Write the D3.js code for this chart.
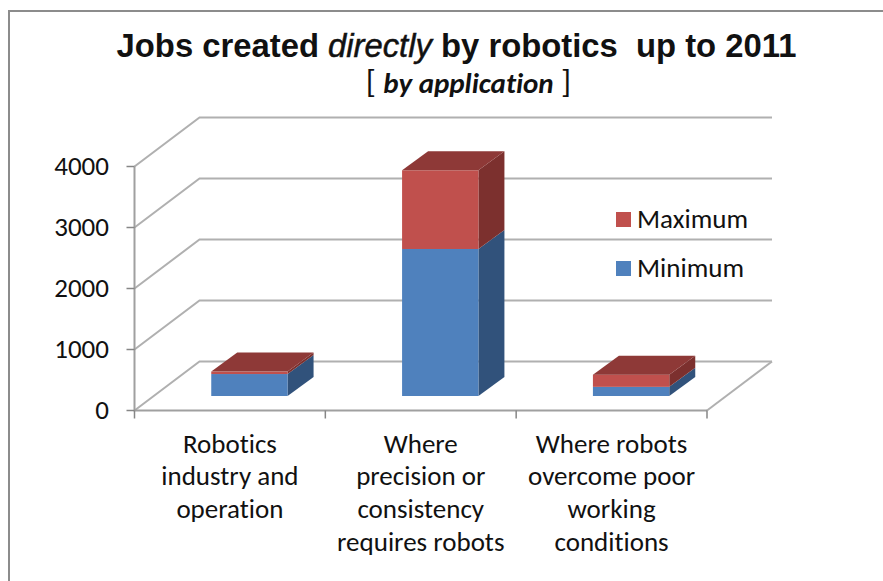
<!DOCTYPE html>
<html><head><meta charset="utf-8">
<style>html,body{margin:0;padding:0;background:#fff}svg{display:block}text{fill:#111;font-variant-ligatures:none}</style>
<script src="https://cdn.jsdelivr.net/npm/d3@7/dist/d3.min.js"></script></head>
<body><svg id="c" width="883" height="581"></svg>
<script>
const categories=["Robotics industry and operation","Where precision or consistency requires robots","Where robots overcome poor working conditions"];
const categoryLines=[["Robotics","industry and","operation"],["Where","precision or","consistency","requires robots"],["Where robots","overcome poor","working","conditions"]];
const minimum=[360,2410,150];
const maximum=[40,1290,200];
const yTicks=[0,1000,2000,3000,4000];
const legendLabels=["Maximum","Minimum"];

const svg=d3.select("#c");
const font="Carlito, 'Open Sans', 'Noto Sans', sans-serif";
const x0=134.5,x1=707,yBase=410.5,yTop=166.5;
const wallDx=65,wallDy=-49, barDx=26,barDy=-19;
const y=d3.scaleLinear().domain([0,4000]).range([yBase,yTop]);
const x=d3.scaleBand().domain(categories).range([x0+19.5,x1+19.5]).paddingInner(0.6).paddingOuter(0.3);
const h=v=>y(0)-y(v);
const barFloor=396;
const gridC="#b0b0b0",axisC="#a0a0a0",tickC="#868686";

svg.append("path").attr("d","M883,11L9,11L9,581").attr("fill","none").attr("stroke","#8c8c8c").attr("stroke-width",2);

// walls / grid
const grid=svg.append("g").attr("fill","none").attr("stroke",gridC).attr("stroke-width",2);
yTicks.forEach(t=>{
  grid.append("path").attr("d",`M${x0},${y(t)}L${x0+wallDx},${y(t)+wallDy}L${x1+wallDx},${y(t)+wallDy}`);
});
grid.append("path").attr("d",`M${x1},${yBase}L${x1+wallDx},${yBase+wallDy}`);

// axes
const axisG=svg.append("g").attr("stroke",axisC).attr("stroke-width",2).attr("fill","none");
axisG.append("path").attr("d",`M${x0},${yTop}L${x0},${yBase}L${x1},${yBase}`);
const tg=svg.append("g").attr("stroke",tickC).attr("stroke-width",1.5).attr("fill","none");
yTicks.forEach(t=>tg.append("path").attr("d",`M${x0-8},${y(t)}L${x0},${y(t)}`));
const bw=(x1-x0)/3;
d3.range(4).forEach(i=>tg.append("path").attr("d",`M${x0+i*bw},${yBase}L${x0+i*bw},${yBase+8}`));

svg.append("g").selectAll("text").data(yTicks).join("text")
 .attr("x",109).attr("y",d=>y(d)+8.5).attr("text-anchor","end").attr("font-family",font).attr("font-size",27).text(d=>d);

// bars
const blue={f:"#4f81bd",s:"#31527b",t:"#3a6090"}, red={f:"#c0504d",s:"#7c302e",t:"#8e3937"};
const bars=svg.append("g");
categories.forEach((c,i)=>{
  const bx=x(c),w=x.bandwidth();
  let base=0;
  [[minimum[i],blue],[maximum[i],red]].forEach(([v,col],k)=>{
    const yb=barFloor-h(base),yt=barFloor-h(base+v);
    bars.append("path").attr("fill",col.s).attr("d",`M${bx+w},${yb}L${bx+w+barDx},${yb+barDy}L${bx+w+barDx},${yt+barDy}L${bx+w},${yt}Z`);
    bars.append("rect").attr("x",bx).attr("y",yt).attr("width",w).attr("height",yb-yt).attr("fill",col.f);
    if(k===1) bars.append("path").attr("fill",col.t).attr("d",`M${bx},${yt}L${bx+barDx},${yt+barDy}L${bx+w+barDx},${yt+barDy}L${bx+w},${yt}Z`);
    base+=v;
  });
});

// category labels
categoryLines.forEach((ls,i)=>{
  const cx=x0+(i+.5)*bw;
  ls.forEach((l,j)=>svg.append("text").attr("x",cx).attr("y",452.7+j*32.7).attr("text-anchor","middle").attr("font-family",font).attr("font-size",27).text(l));
});

// legend
[[0,red.f],[1,blue.f]].forEach(([i,col])=>{
  const ly=212+i*49;
  svg.append("rect").attr("x",616).attr("y",ly).attr("width",15).attr("height",15).attr("fill",col);
  svg.append("text").attr("x",637).attr("y",ly+15.5).attr("font-family",font).attr("font-size",27).text(legendLabels[i]);
});

// title
const t=svg.append("text").attr("x",456.5).attr("y",56.5).attr("text-anchor","middle").attr("font-family","'Liberation Sans',Arial,sans-serif").attr("font-size",32.8).attr("font-weight","bold");
t.append("tspan").text("Jobs created ");
t.append("tspan").attr("font-style","italic").attr("font-weight","normal").attr("stroke","#111").attr("stroke-width",0.5).text("directly");
t.append("tspan").text(" by robotics \u00a0up to 2011");
const s=svg.append("text").attr("x",468.5).attr("y",93).attr("text-anchor","middle").attr("font-family",font).attr("font-size",33);
s.append("tspan").text("[ ");
s.append("tspan").attr("font-style","italic").attr("font-weight","bold").attr("font-size",29).text("by application");
s.append("tspan").text(" ]");
</script></body></html>
